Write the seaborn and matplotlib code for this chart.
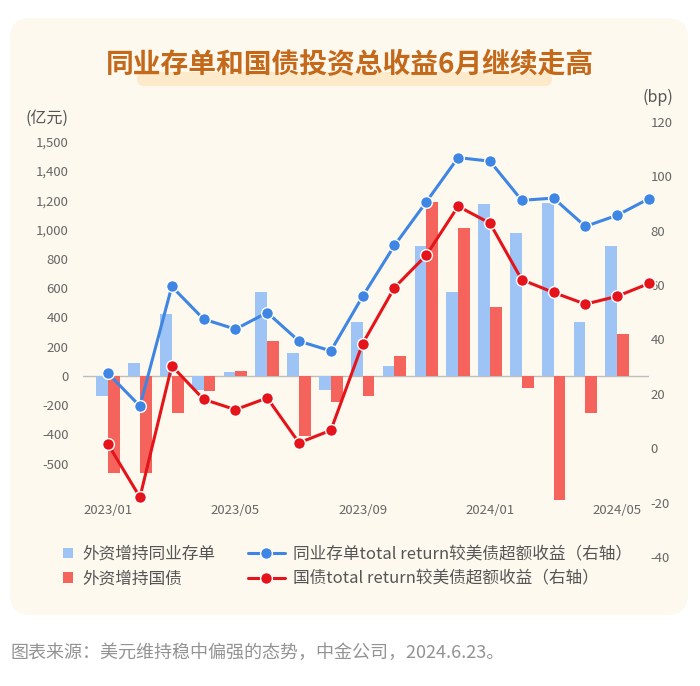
import numpy as np
import pandas as pd
import matplotlib
matplotlib.use("Agg")
import matplotlib.pyplot as plt
from matplotlib.patches import FancyBboxPatch
import seaborn as sns

# ---------------- data ----------------
months = ["2023/01", "2023/02", "2023/03", "2023/04", "2023/05", "2023/06",
          "2023/07", "2023/08", "2023/09", "2023/10", "2023/11", "2023/12",
          "2024/01", "2024/02", "2024/03", "2024/04", "2024/05", "2024/06"]
bar_months = months[:17]
ncd_flow = [-140, 90, 420, -95, 25, 575, 160, -95, 370, 65, 885, 575,
            1175, 975, 1180, 370, 885]            # 外资增持同业存单 (亿元)
govt_flow = [-665, -660, -250, -100, 35, 240, -410, -180, -135, 135, 1190,
             1010, 470, -85, -850, -255, 285]      # 外资增持国债 (亿元)
ncd_excess = [27.5, 15.5, 59.5, 47.5, 43.8, 49.9, 39.4, 35.8, 55.9, 74.6,
              90.6, 106.9, 105.6, 91.2, 92.0, 81.6, 85.7, 91.8]   # bp
govt_excess = [1.4, -18.0, 30.3, 18.0, 14.2, 18.5, 2.0, 6.6, 38.5, 59.1,
               71.0, 89.0, 82.8, 62.0, 57.3, 53.0, 55.9, 60.6]    # bp

bar_series = ["外资增持同业存单", "外资增持国债"]
line_series = ["同业存单total return较美债超额收益（右轴）",
               "国债total return较美债超额收益（右轴）"]
xtick_labels = ["2023/01", "2023/05", "2023/09", "2024/01", "2024/05"]
left_tick_values = [-600, -400, -200, 0, 200, 400, 600, 800, 1000, 1200, 1400, 1600]
left_tick_labels = ["-500", "-400", "-200", "0", "200", "400", "600", "800",
                    "1,000", "1,200", "1,400", "1,500"]
right_tick_values = [-40, -20, 0, 20, 40, 60, 80, 100, 120]

title = "同业存单和国债投资总收益6月继续走高"
footer = "图表来源：美元维持稳中偏强的态势，中金公司，2024.6.23。"

# ---------------- style ----------------
sns.set_theme(style="white")
plt.rcParams["font.family"] = ["Noto Sans CJK SC", "DejaVu Sans"]
plt.rcParams["axes.unicode_minus"] = False

C_BAR_BLUE = "#9EC4F6"
C_BAR_RED = "#F4645D"
C_LINE_BLUE = "#3F86E4"
C_LINE_RED = "#E5141B"
C_TEXT = "#666666"

W, H = 700, 686
fig = plt.figure(figsize=(W / 100, H / 100), dpi=100)
fig.patch.set_facecolor("white")

def fx(px):
    return px / W

def fy(py):
    return 1 - py / H

# cream panel
fig.add_artist(FancyBboxPatch((fx(10), fy(615)), fx(678), (615 - 18) / H,
                              boxstyle="round,pad=0,rounding_size=0.03",
                              transform=fig.transFigure, facecolor="#FDF9EE",
                              edgecolor="none", zorder=0))
# title highlight band
fig.add_artist(FancyBboxPatch((fx(137), fy(86)), fx(552 - 137), 14 / H,
                              boxstyle="round,pad=0,rounding_size=0.01",
                              transform=fig.transFigure, facecolor="#FDEACB",
                              edgecolor="none", zorder=1))
fig.text(fx(350), fy(65), title, ha="center", va="center", fontsize=20,
         fontweight="bold", color="#C4681A", zorder=2)

# ---------------- axes ----------------
ax1 = fig.add_axes([fx(83), 1 - 557 / H, fx(566), 435 / H])
ax1.set_facecolor("none")
ax2 = ax1.twinx()

df_bar = pd.DataFrame({
    "month": bar_months * 2,
    "value": ncd_flow + govt_flow,
    "series": [bar_series[0]] * len(bar_months) + [bar_series[1]] * len(bar_months),
})
ax1.axhline(0, color="#BDBDBD", lw=1, zorder=0.5)
sns.barplot(data=df_bar, x="month", y="value", hue="series", order=months,
            hue_order=bar_series, palette=[C_BAR_BLUE, C_BAR_RED],
            width=0.74, dodge=True, saturation=1, errorbar=None,
            linewidth=0, ax=ax1, zorder=2)
bar_handles, bar_labels = ax1.get_legend_handles_labels()
if ax1.get_legend() is not None:
    ax1.get_legend().remove()

x_idx = np.arange(len(months))
sns.lineplot(x=x_idx, y=ncd_excess, ax=ax2, color=C_LINE_BLUE, linewidth=2.2,
             marker="o", markersize=8.5, markeredgecolor="white",
             markeredgewidth=1.0, label=line_series[0], clip_on=False, zorder=3)
sns.lineplot(x=x_idx, y=govt_excess, ax=ax2, color=C_LINE_RED, linewidth=2.2,
             marker="o", markersize=8.5, markeredgecolor="white",
             markeredgewidth=1.0, label=line_series[1], clip_on=False, zorder=3)
line_handles, line_labels = ax2.get_legend_handles_labels()
if ax2.get_legend() is not None:
    ax2.get_legend().remove()

ax1.set_xlim(-0.79, 17.0)
ax1.set_ylim(-1237, 1735)
ax2.set_ylim(-40, 120)

ax1.set_xticks([0, 4, 8, 12, 16])
ax1.set_xticklabels(xtick_labels)
ax1.set_yticks(left_tick_values)
ax1.set_yticklabels(left_tick_labels)
ax2.set_yticks(right_tick_values)
ax2.set_yticklabels([str(v) for v in right_tick_values])

ax1.set_xlabel("")
ax1.set_ylabel("")
ax2.set_ylabel("")
ax1.tick_params(axis="x", length=0, pad=-38, labelsize=9.5, labelcolor=C_TEXT)
ax1.tick_params(axis="y", length=0, pad=10.5, labelsize=9.5, labelcolor=C_TEXT)
ax2.tick_params(axis="y", length=0, pad=1, labelsize=9.5, labelcolor=C_TEXT)
for ax in (ax1, ax2):
    for s in ax.spines.values():
        s.set_visible(False)
    ax.grid(False)

fig.text(fx(47), fy(118), "(亿元)", ha="center", va="center", fontsize=11.5,
         color="#555555")
fig.text(fx(658), fy(97), "(bp)", ha="center", va="center", fontsize=11.5,
         color="#555555")

# ---------------- legends ----------------
fig.legend(handles=bar_handles, labels=bar_labels, loc="upper left",
           bbox_to_anchor=(fx(63), fy(546)), frameon=False, fontsize=12,
           handlelength=0.6, handleheight=0.6, handletextpad=0.55,
           labelspacing=0.45, borderpad=0, borderaxespad=0, labelcolor="#555555")
fig.legend(handles=line_handles, labels=line_labels, loc="upper left",
           bbox_to_anchor=(fx(248), fy(546)), frameon=False, fontsize=12,
           handlelength=2.2, handletextpad=0.5, labelspacing=0.45,
           borderpad=0, borderaxespad=0, labelcolor="#555555")

fig.text(fx(11), fy(653), footer, ha="left", va="center", fontsize=13,
         color="#939393")

fig.savefig("out.png", dpi=100, facecolor="white")
